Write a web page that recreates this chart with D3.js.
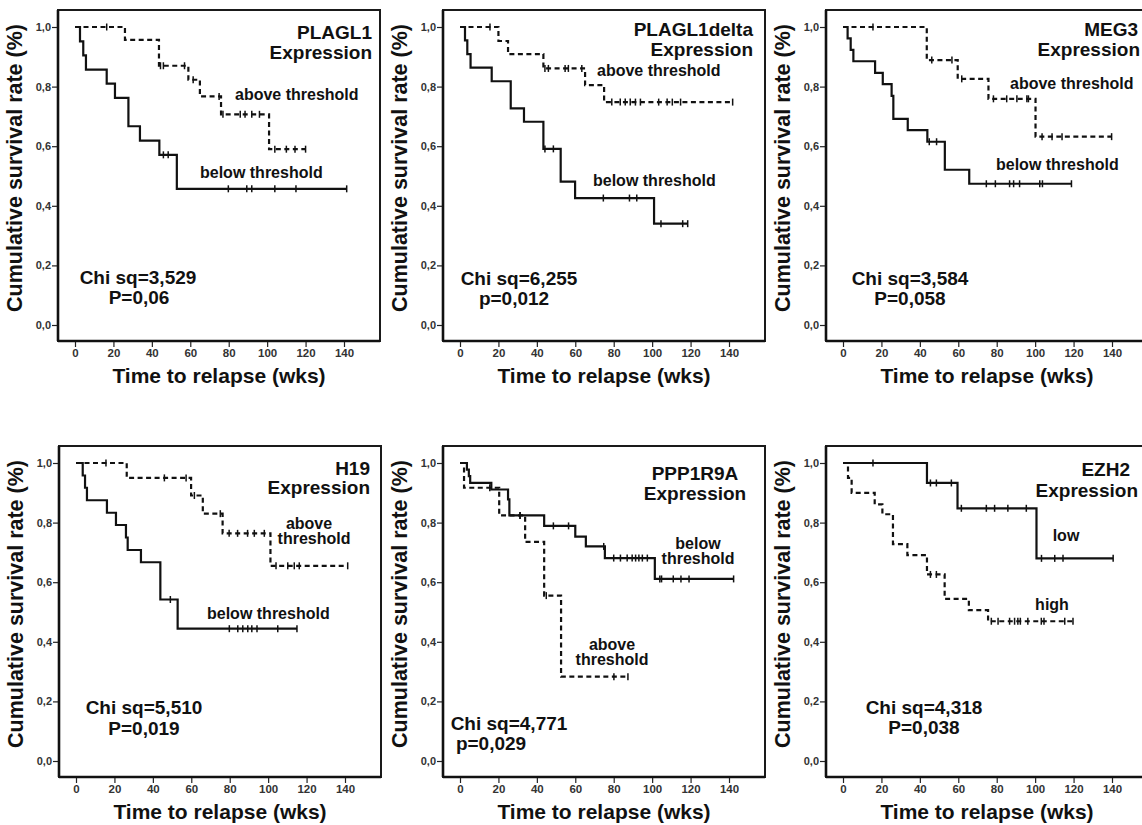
<!DOCTYPE html>
<html>
<head>
<meta charset="utf-8">
<script src="https://cdn.jsdelivr.net/npm/d3@7"></script>
<style>
  html, body { margin: 0; padding: 0; background: #fff; }
  svg { display: block; font-family: "Liberation Sans", Arial, sans-serif; font-weight: bold; }
</style>
</head>
<body>
<svg id="chart" width="1142" height="825"></svg>
<script>
// ---- Axis ticks ----
const xTicks = [0, 20, 40, 60, 80, 100, 120, 140];
const yTicks = [0, 0.2, 0.4, 0.6, 0.8, 1.0];
const yTickLabels = ["0,0", "0,2", "0,4", "0,6", "0,8", "1,0"];

// ---- Kaplan-Meier curves: [time (wks), cumulative survival] and censored times ----
const plagl1AboveSteps = [[0,1],[26,0.957],[43.7,0.870],[59,0.823],[65,0.767],[76,0.707],[101,0.590]];
const plagl1AboveCensored = [16.5,44.5,46,57,61.5,75,77,86,88.5,92,96,104,110,114.5,120];
const plagl1BelowSteps = [[0,1],[2.6,0.952],[4.3,0.905],[5.7,0.857],[16.5,0.810],[20.8,0.762],[27.8,0.667],[33.8,0.619],[43.9,0.571],[53,0.457]];
const plagl1BelowCensored = [46,48.5,79.8,89.4,92,104,115,141.4];

const deltaAboveSteps = [[0,1],[20,0.953],[25,0.909],[43.4,0.861],[65.1,0.805],[75,0.748]];
const deltaAboveCensored = [15.6,44.2,46,54.7,56.4,63.4,79,83.4,86,88.6,91.3,93.9,103.4,107.8,110.5,114.8,141.9];
const deltaBelowSteps = [[0,1],[2.6,0.955],[3.8,0.909],[5.5,0.864],[16.5,0.818],[26.4,0.727],[33.3,0.682],[43.4,0.591],[52.4,0.481],[59.9,0.426],[101,0.340]];
const deltaBelowCensored = [44.2,48.6,74.6,88.2,92,104.6,115.9,118.5];

const meg3AboveSteps = [[0,1],[43.6,0.889],[59.7,0.826],[75.7,0.759],[100.2,0.632]];
const meg3AboveCensored = [15.6,46.2,56.7,61.8,78.3,85.2,90.5,95.7,96.5,103.6,108.8,114,139.8];
const meg3BelowSteps = [[0,1],[2.4,0.962],[4,0.923],[5.4,0.885],[16.7,0.846],[20.7,0.808],[25.3,0.769],[26.2,0.692],[33.7,0.654],[43.9,0.615],[53,0.521],[65.7,0.474]];
const meg3BelowCensored = [44.9,48.7,74.6,79.3,86.7,88.8,91.9,102.4,103.8,118.9];

const h19AboveSteps = [[0,1],[26.4,0.950],[59.9,0.891],[66,0.830],[76.3,0.764],[101.2,0.655]];
const h19AboveCensored = [15.6,46,57.3,61.6,75.1,79.7,84.1,89.3,92.8,98,104.1,110.2,113.6,116.2,141.4];
const h19BelowSteps = [[0,1],[3.5,0.958],[4.7,0.917],[5.7,0.875],[16.1,0.833],[20.8,0.792],[26,0.750],[26.9,0.708],[33.8,0.667],[43.9,0.542],[52.9,0.444]];
const h19BelowCensored = [49.1,79.8,84.2,86.8,89.4,91.5,94.2,105,115];

const ppp1r9aBelowSteps = [[0,1],[3.6,0.978],[4.6,0.956],[5.3,0.933],[16.3,0.911],[25,0.878],[25.7,0.824],[43.8,0.789],[60,0.753],[65.5,0.720],[75.4,0.681],[101.4,0.611]];
const ppp1r9aBelowCensored = [31.2,48.6,56.5,74.8,80,83.5,87,89.6,91.4,93.1,94.9,97.5,104,104.9,111,115,119.2,142.4];
const ppp1r9aAboveSteps = [[0,1],[2.1,0.917],[20.4,0.824],[33.9,0.735],[43.8,0.555],[52.6,0.283]];
const ppp1r9aAboveCensored = [15.5,31.3,44.9,80.1,87.4];

const ezh2LowSteps = [[0,1],[43.7,0.933],[59.6,0.848],[100.7,0.680]];
const ezh2LowCensored = [15.6,45.5,48.6,56.4,61.6,74.6,78.9,85.8,95.4,103.3,110.2,114.5,140.6];
const ezh2HighSteps = [[0,1],[2.6,0.950],[4.5,0.900],[16.5,0.861],[20.5,0.828],[26,0.728],[33.5,0.691],[43.7,0.626],[52.9,0.544],[65.5,0.506],[75.5,0.469]];
const ezh2HighCensored = [45.5,48.6,77.2,80.7,86.7,89.3,91,92.3,96.2,103.2,104.6,115.4,119.7];

// ---- Panel layout ----
const FRAME_W = 322, FRAME_H = 331;

const panels = [
  { left: 58, top: 10,
    curves: [{ steps: plagl1AboveSteps, censored: plagl1AboveCensored, dashed: true },
             { steps: plagl1BelowSteps, censored: plagl1BelowCensored, dashed: false }],
    texts: [
      { t: "PLAGL1", x: 314, y: 22.5, a: "end", s: 19 },
      { t: "Expression", x: 314, y: 42.5, a: "end", s: 19 },
      { t: "above threshold", x: 177, y: 84, a: "start", s: 16 },
      { t: "below threshold", x: 142, y: 162, a: "start", s: 16 },
      { t: "Chi sq=3,529", x: 80, y: 267, a: "middle", s: 19 },
      { t: "P=0,06", x: 81, y: 287, a: "middle", s: 19 }
    ] },
  { left: 443, top: 10,
    curves: [{ steps: deltaAboveSteps, censored: deltaAboveCensored, dashed: true },
             { steps: deltaBelowSteps, censored: deltaBelowCensored, dashed: false }],
    texts: [
      { t: "PLAGL1delta", x: 310, y: 19, a: "end", s: 19 },
      { t: "Expression", x: 310, y: 39, a: "end", s: 19 },
      { t: "above threshold", x: 154, y: 60, a: "start", s: 16 },
      { t: "below threshold", x: 150, y: 170, a: "start", s: 16 },
      { t: "Chi sq=6,255", x: 76, y: 268, a: "middle", s: 19 },
      { t: "p=0,012", x: 71, y: 288, a: "middle", s: 19 }
    ] },
  { left: 826, top: 10,
    curves: [{ steps: meg3AboveSteps, censored: meg3AboveCensored, dashed: true },
             { steps: meg3BelowSteps, censored: meg3BelowCensored, dashed: false }],
    texts: [
      { t: "MEG3", x: 312, y: 19.5, a: "end", s: 19 },
      { t: "Expression", x: 314, y: 39, a: "end", s: 19 },
      { t: "above threshold", x: 184, y: 73, a: "start", s: 16 },
      { t: "below threshold", x: 170, y: 154, a: "start", s: 16 },
      { t: "Chi sq=3,584", x: 84, y: 268, a: "middle", s: 19 },
      { t: "P=0,058", x: 84, y: 288, a: "middle", s: 19 }
    ] },
  { left: 59, top: 446,
    curves: [{ steps: h19AboveSteps, censored: h19AboveCensored, dashed: true },
             { steps: h19BelowSteps, censored: h19BelowCensored, dashed: false }],
    texts: [
      { t: "H19", x: 311, y: 22, a: "end", s: 19 },
      { t: "Expression", x: 311, y: 41.5, a: "end", s: 19 },
      { t: "above", x: 250, y: 77, a: "middle", s: 16 },
      { t: "threshold", x: 255, y: 92, a: "middle", s: 16 },
      { t: "below threshold", x: 148, y: 167, a: "start", s: 16 },
      { t: "Chi sq=5,510", x: 85, y: 261, a: "middle", s: 19 },
      { t: "P=0,019", x: 85, y: 282, a: "middle", s: 19 }
    ] },
  { left: 443, top: 446,
    curves: [{ steps: ppp1r9aBelowSteps, censored: ppp1r9aBelowCensored, dashed: false },
             { steps: ppp1r9aAboveSteps, censored: ppp1r9aAboveCensored, dashed: true }],
    texts: [
      { t: "PPP1R9A", x: 252, y: 27, a: "middle", s: 19 },
      { t: "Expression", x: 252, y: 47, a: "middle", s: 19 },
      { t: "below", x: 255, y: 97, a: "middle", s: 16 },
      { t: "threshold", x: 255, y: 112, a: "middle", s: 16 },
      { t: "above", x: 169, y: 198, a: "middle", s: 16 },
      { t: "threshold", x: 169, y: 213, a: "middle", s: 16 },
      { t: "Chi sq=4,771", x: 66, y: 277, a: "middle", s: 19 },
      { t: "p=0,029", x: 48, y: 297, a: "middle", s: 19 }
    ] },
  { left: 826, top: 446,
    curves: [{ steps: ezh2LowSteps, censored: ezh2LowCensored, dashed: false },
             { steps: ezh2HighSteps, censored: ezh2HighCensored, dashed: true }],
    texts: [
      { t: "EZH2", x: 304, y: 23.5, a: "end", s: 19 },
      { t: "Expression", x: 312, y: 44, a: "end", s: 19 },
      { t: "low", x: 240, y: 89, a: "middle", s: 16 },
      { t: "high", x: 226, y: 158, a: "middle", s: 16 },
      { t: "Chi sq=4,318", x: 98, y: 261, a: "middle", s: 19 },
      { t: "P=0,038", x: 98, y: 281, a: "middle", s: 19 }
    ] }
];

const svg = d3.select("#chart");

// survival value of a step curve at time t
const bisectTime = d3.bisector(d => d[0]).right;
function survivalAt(steps, t) {
  const i = bisectTime(steps, t) - 1;
  return steps[Math.max(0, i)][1];
}

panels.forEach(p => {
  const g = svg.append("g").attr("transform", `translate(${p.left},${p.top})`);
  const x = d3.scaleLinear().domain([0, 140]).range([17, 286]);
  const y = d3.scaleLinear().domain([0, 1]).range([315, 17]);

  // frame
  g.append("rect")
    .attr("x", 0).attr("y", 0).attr("width", FRAME_W).attr("height", FRAME_H)
    .attr("fill", "none").attr("stroke", "#1a1a1a").attr("stroke-width", 2);
  g.append("line")
    .attr("x1", 0).attr("x2", 0).attr("y1", 0).attr("y2", FRAME_H)
    .attr("stroke", "#111").attr("stroke-width", 2.6);
  g.append("line")
    .attr("x1", 0).attr("x2", FRAME_W).attr("y1", FRAME_H).attr("y2", FRAME_H)
    .attr("stroke", "#111").attr("stroke-width", 2.6);

  // y axis
  const yAxis = g.append("g")
    .call(d3.axisLeft(y).tickValues(yTicks).tickSize(5).tickSizeOuter(0)
      .tickFormat((d, i) => yTickLabels[i]));
  yAxis.select(".domain").remove();
  yAxis.selectAll("line").attr("stroke", "#222").attr("stroke-width", 1.2).attr("transform", "translate(-1,0)");
  yAxis.selectAll("text").attr("font-size", 11).attr("fill", "#333")
    .attr("font-family", "Liberation Sans, Arial, sans-serif").attr("font-weight", "bold")
    .attr("x", -7);

  // x axis
  const xAxis = g.append("g").attr("transform", `translate(0,${FRAME_H})`)
    .call(d3.axisBottom(x).tickValues(xTicks).tickSize(5).tickSizeOuter(0));
  xAxis.select(".domain").remove();
  xAxis.selectAll("line").attr("stroke", "#222").attr("stroke-width", 1.2).attr("transform", "translate(0,1)");
  xAxis.selectAll("text").attr("font-size", 11.5).attr("fill", "#333")
    .attr("font-family", "Liberation Sans, Arial, sans-serif").attr("font-weight", "bold")
    .attr("y", 8);

  // axis titles
  g.append("text")
    .attr("transform", `translate(${-36},${158}) rotate(-90)`)
    .attr("text-anchor", "middle").attr("font-size", 21.5).attr("fill", "#111")
    .text("Cumulative survival rate (%)");
  g.append("text")
    .attr("x", FRAME_W / 2).attr("y", FRAME_H + 42)
    .attr("text-anchor", "middle").attr("font-size", 21).attr("fill", "#111")
    .text("Time to relapse (wks)");

  // curves
  const line = d3.line().x(d => x(d[0])).y(d => y(d[1])).curve(d3.curveStepAfter);
  p.curves.forEach(c => {
    const last = c.steps[c.steps.length - 1];
    const end = Math.max(last[0], d3.max(c.censored));
    const pts = c.steps.concat([[end, last[1]]]);
    g.append("path")
      .attr("d", line(pts))
      .attr("fill", "none").attr("stroke", "#111").attr("stroke-width", 2.2)
      .attr("stroke-dasharray", c.dashed ? "5,3.5" : null);
    g.selectAll(null).data(c.censored).enter().append("line")
      .attr("x1", d => x(d)).attr("x2", d => x(d))
      .attr("y1", d => y(survivalAt(c.steps, d)) - 3.5)
      .attr("y2", d => y(survivalAt(c.steps, d)) + 3.5)
      .attr("stroke", "#111").attr("stroke-width", 1.5);
  });

  // annotations
  p.texts.forEach(t => {
    g.append("text")
      .attr("x", t.x).attr("y", t.y).attr("dy", "0.35em")
      .attr("text-anchor", t.a).attr("font-size", t.s).attr("fill", "#111")
      .text(t.t);
  });
});
</script>
</body>
</html>
